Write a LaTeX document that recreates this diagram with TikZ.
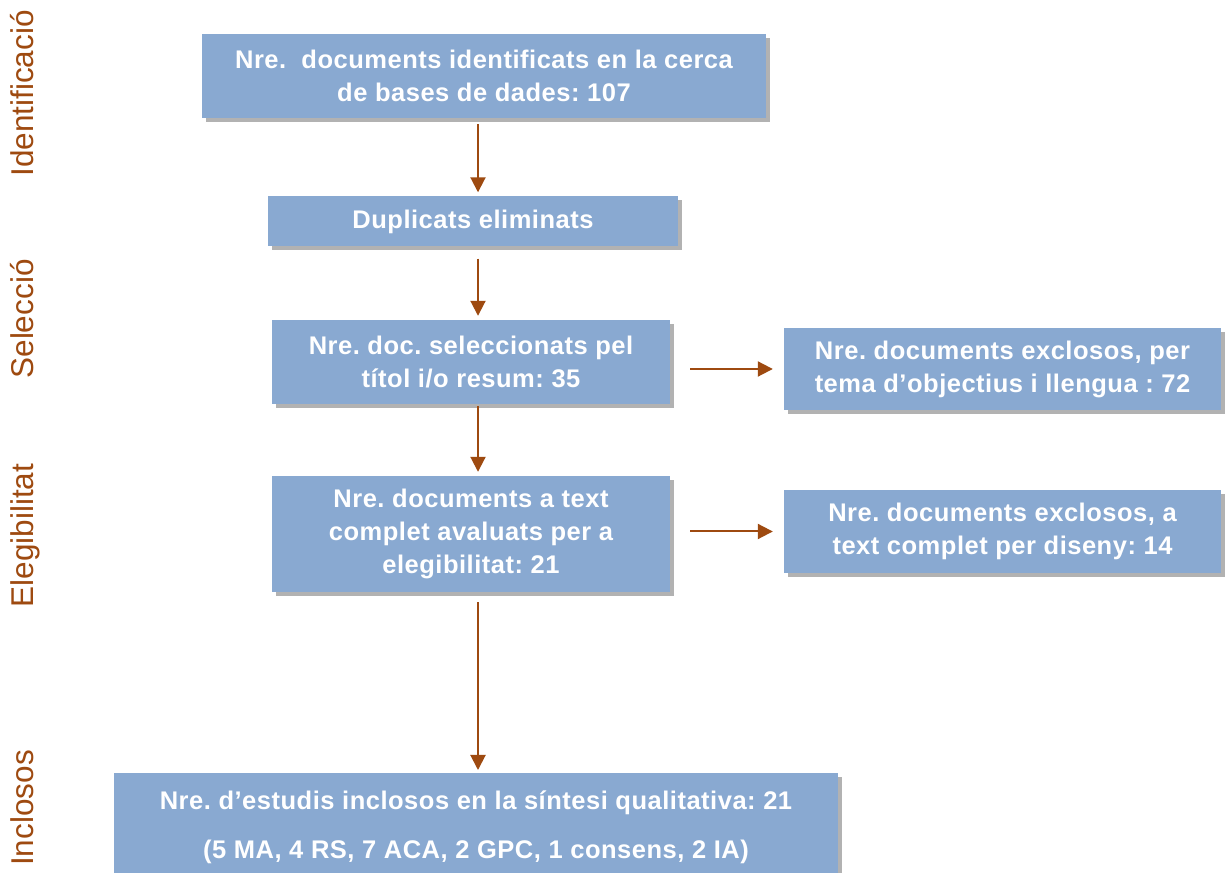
\documentclass[tikz,border=0pt]{standalone}
\usepackage{fontspec}
\setmainfont{Liberation Sans}
\newfontfamily\boxfont[LetterSpace=2]{Liberation Sans}
\usetikzlibrary{arrows.meta,shadows}
\definecolor{boxblue}{HTML}{89A9D1}
\definecolor{brownc}{HTML}{9E4A10}
\frenchspacing
\tikzset{
  flowbox/.style={rectangle, fill=boxblue, draw=none, inner sep=0pt,
    text=white, align=center, font=\boxfont\fontsize{25.5}{33}\selectfont\bfseries,
    drop shadow={shadow xshift=4pt, shadow yshift=-4pt, fill=black, opacity=0.3}},
  boxtext/.style={text=white, inner sep=0pt, font=\boxfont\fontsize{25.5}{33}\selectfont\bfseries},
  sidelabel/.style={rotate=90, anchor=base, inner sep=0pt, text=brownc,
    font=\fontsize{31.5}{36}\selectfont},
  flowarrow/.style={draw=brownc, line width=2pt, -{Triangle[length=15pt,width=15pt]}}
}
\begin{document}
\begin{tikzpicture}[x=1pt,y=1pt]
\useasboundingbox (0,0) rectangle (1225,872);
\clip (0,0) rectangle (1225,872);
\fill[white] (0,0) rectangle (1225,872);

% side labels
\node[sidelabel] (lid) at (33,778.5) {Identificació};
\node[sidelabel] (lsel) at (33,553) {Selecció};
\node[sidelabel] (lele) at (33,336.5) {Elegibilitat};
\node[sidelabel] (linc) at (33,64) {Inclosos};

% boxes
\node[flowbox, minimum width=564pt, minimum height=84pt] (b1) at (484,796)
  {Nre.\ \ documents identificats en la cerca\\de bases de dades: 107};
\node[flowbox, minimum width=410pt, minimum height=50pt] (b2) at (473,650.5)
  {Duplicats eliminats};
\node[flowbox, minimum width=398pt, minimum height=84pt] (b3) at (471,510)
  {Nre. doc. seleccionats pel\\títol i/o resum: 35};
\node[flowbox, minimum width=437pt, minimum height=82pt] (b4) at (1002.5,503)
  {Nre. documents exclosos, per\\tema d’objectius i llengua : 72};
\node[flowbox, minimum width=398pt, minimum height=116pt] (b5) at (471,338)
  {Nre. documents a text\\complet avaluats per a\\elegibilitat: 21};
\node[flowbox, minimum width=437pt, minimum height=83pt] (b6) at (1002.5,340.5)
  {Nre. documents exclosos, a\\text complet per diseny: 14};
\node[flowbox, minimum width=724pt, minimum height=115pt, anchor=north] (b7) at (476,99) {};
\node[boxtext, anchor=base] (t7a) at (476,62) {Nre. d’estudis inclosos en la síntesi qualitativa: 21};
\node[boxtext, anchor=base] (t7b) at (476,13) {(5 MA, 4 RS, 7 ACA, 2 GPC, 1 consens, 2 IA)};

% arrows
\coordinate (ax) at (478,0);
\draw[flowarrow, shorten <=6pt, shorten >=4pt] (b1.south -| ax) -- (b2.north -| ax);
\draw[flowarrow, shorten <=12pt, shorten >=4pt] (b2.south -| ax) -- (b3.north -| ax);
\draw[flowarrow, shorten <=2pt, shorten >=4pt] (b3.south -| ax) -- (b5.north -| ax);
\draw[flowarrow, shorten <=10pt, shorten >=3pt] (b5.south -| ax) -- (b7.north -| ax);
\draw[flowarrow, shorten <=20pt, shorten >=11pt] (b3.east |- b4.west) -- (b4.west);
\draw[flowarrow, shorten <=20pt, shorten >=11pt] (b5.east |- b6.west) -- (b6.west);
\end{tikzpicture}
\end{document}
